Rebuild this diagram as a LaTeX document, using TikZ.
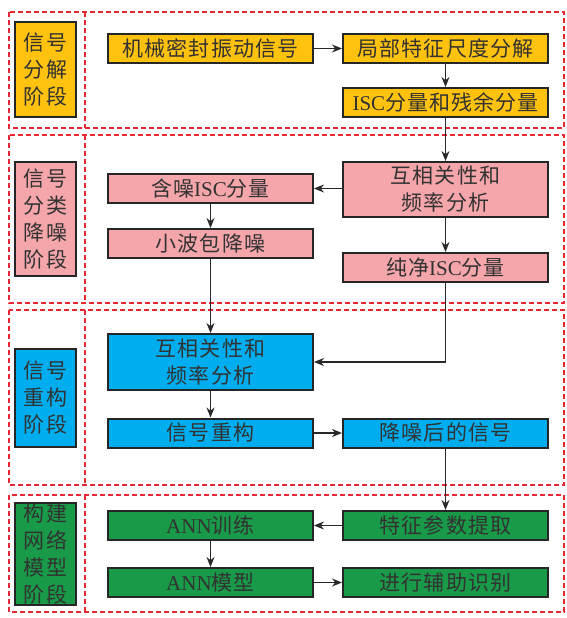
\documentclass[tikz,border=0pt]{standalone}
\usepackage{fontspec}
\setmainfont{Liberation Serif}
\newfontfamily\cjk[LetterSpace=5]{Noto Sans CJK SC}
\usetikzlibrary{arrows.meta}
\definecolor{cyel}{RGB}{255,194,14}
\definecolor{cpink}{RGB}{244,166,170}
\definecolor{cblue}{RGB}{0,174,239}
\definecolor{cgreen}{RGB}{24,154,72}
\definecolor{ctext}{RGB}{50,50,50}
\definecolor{cframe}{RGB}{230,40,50}
\definecolor{cline}{RGB}{40,40,40}
\tikzset{
  box/.style={draw=black!85, line width=2pt, rectangle, minimum width=205pt, minimum height=29pt,
    inner sep=0pt, text=ctext, font=\fontsize{21}{27}\selectfont\cjk, align=center},
  lab/.style={draw=black!85, line width=2pt, rectangle, minimum width=61pt,
    inner sep=0pt, text=ctext, font=\fontsize{21}{27}\selectfont\cjk, align=center},
  frame/.style={draw=cframe, line width=1.1pt, dash pattern=on 5pt off 3pt},
  conn/.style={draw=cline, line width=1.5pt, -{Stealth[length=10pt,width=8pt]}}
}
\begin{document}
\begin{tikzpicture}[x=1pt,y=-1pt]
\useasboundingbox (0,0) rectangle (567,618);
% frames
\foreach \a/\b in {12/128,135/303,310/485,495/612}{
  \draw[frame] (9,\a) rectangle (564,\b);
  \draw[frame] (85,\a) -- (85,\b);
}
% stage labels
\node[lab, fill=cyel, minimum height=95pt] (L1) at (45.5,69.5) {信号\\分解\\阶段};
\node[lab, fill=cpink, minimum height=114pt] (L2) at (45.5,219) {信号\\分类\\降噪\\阶段};
\node[lab, fill=cblue, minimum height=98pt] (L3) at (45.5,398) {信号\\重构\\阶段};
\node[lab, fill=cgreen, minimum height=102pt] (L4) at (45.5,554) {构建\\网络\\模型\\阶段};
% stage 1
\node[box, fill=cyel] (A) at (210.5,48.5) {机械密封振动信号};
\node[box, fill=cyel] (B) at (445.5,48.5) {局部特征尺度分解};
\node[box, fill=cyel] (C) at (445.5,102.5) {{\rmfamily ISC}分量和残余分量};
% stage 2
\node[box, fill=cpink, minimum height=55pt] (D) at (445.5,189.5) {互相关性和\\频率分析};
\node[box, fill=cpink] (E) at (210.5,188.5) {含噪{\rmfamily ISC}分量};
\node[box, fill=cpink] (F) at (210.5,243.5) {小波包降噪};
\node[box, fill=cpink] (G) at (445.5,267.5) {纯净{\rmfamily ISC}分量};
% stage 3
\node[box, fill=cblue, minimum height=56pt] (H) at (210.5,362) {互相关性和\\频率分析};
\node[box, fill=cblue] (I) at (210.5,433) {信号重构};
\node[box, fill=cblue] (J) at (445.5,433) {降噪后的信号};
% stage 4
\node[box, fill=cgreen] (K) at (210.5,525.5) {{\rmfamily ANN}训练};
\node[box, fill=cgreen] (Lx) at (445.5,525.5) {特征参数提取};
\node[box, fill=cgreen] (M) at (210.5,582.5) {{\rmfamily ANN}模型};
\node[box, fill=cgreen] (N) at (445.5,582.5) {进行辅助识别};
% connectors
\draw[conn] (A) -- (B);
\draw[conn] (B) -- (C);
\draw[conn] (C) -- (D);
\draw[conn] (D.west |- E) -- (E);
\draw[conn] (E) -- (F);
\draw[conn] (F) -- (H);
\draw[conn] (D) -- (G);
\draw[conn] (G) |- (H);
\draw[conn] (H) -- (I);
\draw[conn] (I) -- (J);
\draw[conn] (J) -- (Lx);
\draw[conn] (Lx) -- (K);
\draw[conn] (K) -- (M);
\draw[conn] (M) -- (N);
\end{tikzpicture}
\end{document}
